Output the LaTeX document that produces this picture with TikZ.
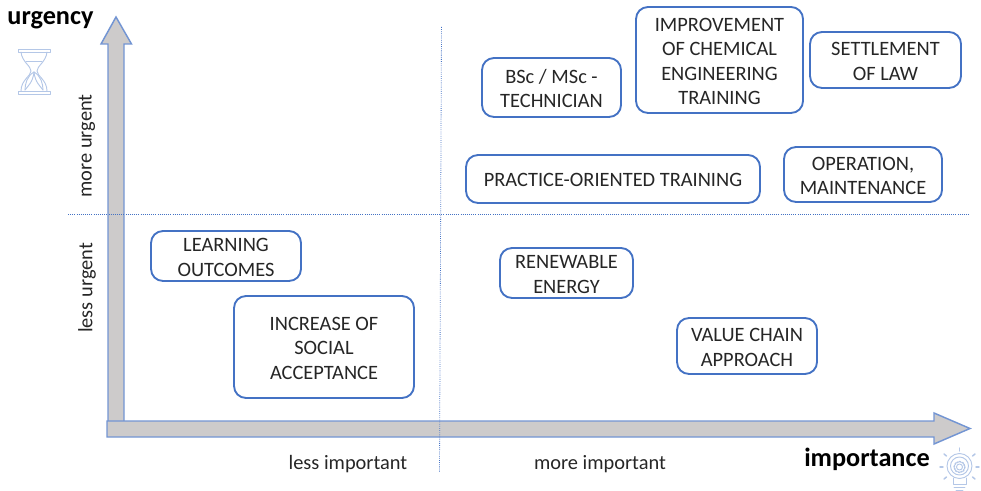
\documentclass[tikz,border=0pt]{standalone}
\usepackage{fontspec}
\setmainfont{Carlito}
\definecolor{edgeblue}{HTML}{4472C4}
\definecolor{axisfill}{HTML}{CDCBCB}
\definecolor{iconblue}{HTML}{B4C7E7}
\definecolor{txt}{HTML}{262626}
\newcommand{\bx}[6]{% name, x0,y0,x1,y1, text
  \node[itembox,minimum width={(#4-#2)*0.75pt},minimum height={(#5-#3)*0.75pt}] (#1) at ({(#2+#4)/2},{(#3+#5)/2}) {\raisebox{-2.25pt}[\height][\depth]{\begin{tabular}{@{}c@{}}#6\end{tabular}}};}
\tikzset{
  x=0.75pt,y=-0.75pt,
  itembox/.style={draw=edgeblue,line width=1.4pt,rounded corners=9pt,fill=white,align=center,text=txt,
    font=\fontsize{15.3}{18.4}\selectfont,inner sep=0pt},
  axisarrow/.style={draw=edgeblue!75,fill=axisfill,line width=1.1pt,line join=miter},
  guide/.style={draw=edgeblue,line width=0.6pt,densely dotted},
  axislabel/.style={text=txt,font=\fontsize{15.3}{18}\selectfont,inner sep=0pt},
  axistitle/.style={text=black,font=\fontsize{19.7}{22}\bfseries\selectfont,inner sep=0pt},
  icon/.style={draw=iconblue,line width=0.7pt,line cap=round,line join=round},
}
\begin{document}
\begin{tikzpicture}
\useasboundingbox (0,0) rectangle (981,491);
% axes
\draw[axisarrow] (108,429) -- (108,44) -- (101,44) -- (116,17) -- (131.5,44) -- (124,44) -- (124,429) -- cycle;
\draw[axisarrow] (107,421) -- (934,421) -- (934,413) -- (970,428.5) -- (934,444) -- (934,437) -- (107,437) -- cycle;
% guides
\coordinate (vtop) at (441.5,27);
\coordinate (vbot) at (439.5,472);
\coordinate (hleft) at (68,214);
\coordinate (hright) at (970,214);
\draw[guide] (vtop) -- (vbot);
\draw[guide] (hleft) -- (hright);
% boxes
\bx{bsc}{482}{58}{621}{117}{BSc / MSc -\\TECHNICIAN}
\bx{chem}{636}{7}{803}{113}{IMPROVEMENT\\OF CHEMICAL\\ENGINEERING\\TRAINING}
\bx{law}{810}{32}{961}{88}{SETTLEMENT\\OF LAW}
\bx{practice}{466}{155}{760}{203}{PRACTICE-ORIENTED TRAINING}
\bx{oper}{784}{147}{942}{202}{OPERATION,\\MAINTENANCE}
\bx{learn}{151}{231}{301}{281}{LEARNING\\OUTCOMES}
\bx{social}{234}{296}{414}{398}{INCREASE OF\\SOCIAL\\ACCEPTANCE}
\bx{renew}{500}{248}{633}{298}{RENEWABLE\\ENERGY}
\bx{value}{677}{318}{817}{374}{VALUE CHAIN\\APPROACH}
% labels
\node[axistitle] (urg) at (50.5,20) {urgency};
\node[axistitle] (imp) at (867,459) {importance};
\node[axislabel,rotate=90] (more) at (87,146) {more urgent};
\node[axislabel,rotate=90] (less) at (87,288) {less urgent};
\node[axislabel] (lessimp) at (348,464.5) {less important};
\node[axislabel] (moreimp) at (600,464.5) {more important};
% hourglass
\begin{scope}[icon]
  \draw (18,49) -- (50,49) -- (50,52) -- (18,52) -- cycle;
  \draw (18,91) -- (50,91) -- (50,94) -- (18,94) -- cycle;
  \draw (21,52) .. controls (22,62) and (31,66) .. (31,71) .. controls (31,76) and (21,80) .. (21,91);
  \draw (47,52) .. controls (46,62) and (37,66) .. (37,71) .. controls (37,76) and (47,80) .. (47,91);
  \draw (26,61) -- (42,61);
  \draw (34,72) .. controls (27,76) and (25,84) .. (25,90);
  \draw (34,72) .. controls (41,76) and (43,84) .. (43,90);
  \draw (34,72) .. controls (33,82) and (28,86) .. (25,90);
  \draw (34,72) .. controls (35,82) and (40,86) .. (43,90);
\end{scope}
% bulb
\begin{scope}[icon]
  \draw (959.5,466) circle (12.5);
  \draw (959.5,466) circle (9);
  \draw (959.5,467) circle (3);
  \draw[line width=1.1pt,densely dotted] (959.5,467) circle (5.5);
  \draw (953,478) -- (953,484) -- (966,484) -- (966,478);
  \draw (954,487) -- (965,487);
  \draw (956,490) -- (963,490);
  \draw[line width=1.1pt] (959.5,448) -- (959.5,451);
  \draw[line width=1.1pt] (944,454) -- (946.5,456);
  \draw[line width=1.1pt] (975,454) -- (972.5,456);
  \draw[line width=1.1pt] (940,467) -- (943,467);
  \draw[line width=1.1pt] (979,467) -- (976,467);
  \draw[line width=1.1pt] (944,479) -- (946.5,477);
  \draw[line width=1.1pt] (975,479) -- (972.5,477);
\end{scope}
\end{tikzpicture}
\end{document}
